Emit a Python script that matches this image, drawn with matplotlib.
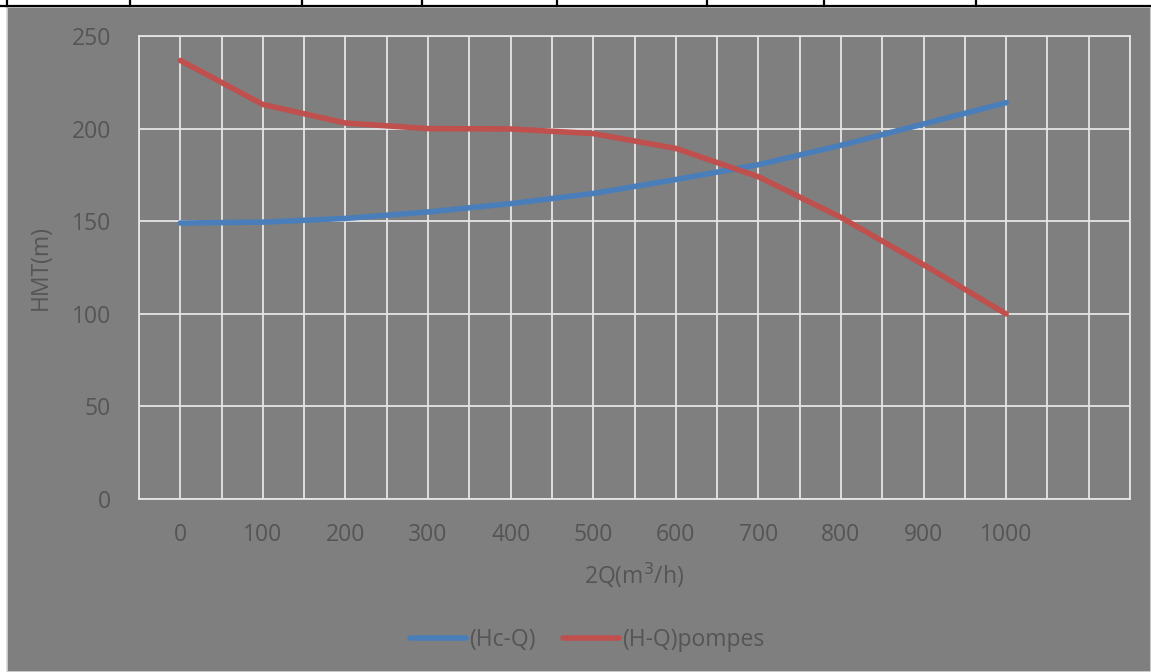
import matplotlib
matplotlib.use("Agg")
import matplotlib.pyplot as plt
from matplotlib.lines import Line2D
from matplotlib.patches import Rectangle
from matplotlib.ticker import MultipleLocator

# Débits (2Q) et hauteurs
debit = [0, 100, 200, 300, 400, 500, 600, 700, 800, 900, 1000]
hc_q = [149, 149.5, 151.5, 155, 159.5, 165, 172.5, 180.5, 191, 202.5, 214]
h_q_pompes = [236.8, 213, 203, 200, 199.8, 197.3, 189.3, 174, 152, 126.5, 99.9]

x_ticks = [0, 100, 200, 300, 400, 500, 600, 700, 800, 900, 1000]
y_ticks = [0, 50, 100, 150, 200, 250]

BG = "#7f7f7f"
TXT = "#555555"
GRID = "#e6e6e6"
FS = 16.5

plt.rcParams['font.family'] = ['Open Sans', 'DejaVu Sans']

W, H = 1151, 672
fig = plt.figure(figsize=(W / 100, H / 100), dpi=100, facecolor="white")

# fond gris du graphique avec son liseré clair
fig.add_artist(Rectangle((7 / W, 0), 1 - 7 / W, (H - 7) / H, transform=fig.transFigure,
                         facecolor=BG, edgecolor="#d9d9d9", linewidth=1.2, zorder=0))

# bordure du tableau au-dessus du graphique
fig.add_artist(Line2D([0, 1], [1 - 5.5 / H, 1 - 5.5 / H], transform=fig.transFigure,
                      color="black", linewidth=1.6))
for xp in [7, 130, 302, 422, 557, 707, 824, 976]:
    fig.add_artist(Line2D([xp / W, xp / W], [1 - 5.5 / H, 1], transform=fig.transFigure,
                          color="black", linewidth=1.6))

ax = fig.add_axes([139 / W, 1 - 499 / H, (1130 - 139) / W, (499 - 36) / H])
ax.set_facecolor(BG)

ax.plot(debit, hc_q, color="#4a7ebb", linewidth=4, solid_capstyle="round",
        solid_joinstyle="round", label="(Hc-Q)", zorder=3)
ax.plot(debit, h_q_pompes, color="#c0504d", linewidth=4, solid_capstyle="round",
        solid_joinstyle="round", label="(H-Q)pompes", zorder=3)

ax.set_xlim(-50, 1150)
ax.set_ylim(0, 250)
ax.xaxis.set_minor_locator(MultipleLocator(50))
ax.set_xticks(x_ticks)
ax.set_yticks(y_ticks)
ax.grid(True, which="both", color=GRID, linewidth=1.3)
ax.set_axisbelow(True)
for s in ax.spines.values():
    s.set_color(GRID)
    s.set_linewidth(1.3)

ax.tick_params(which="both", length=0, colors=TXT, labelsize=FS)
ax.tick_params(axis="y", pad=20)
ax.tick_params(axis="x", pad=17)

ax.set_xlabel("2Q(m$^{3}$/h)", color=TXT, fontsize=FS, labelpad=10)
ax.set_ylabel("HMT(m)", color=TXT, fontsize=FS, labelpad=14)

leg = fig.legend(loc="center", bbox_to_anchor=(587 / W, 1 - 640 / H), ncol=2,
                 frameon=False, fontsize=FS, handlelength=2.45, handletextpad=0.12,
                 columnspacing=1.2)
for t in leg.get_texts():
    t.set_color(TXT)

fig.savefig("out.png", dpi=100, facecolor=fig.get_facecolor())
